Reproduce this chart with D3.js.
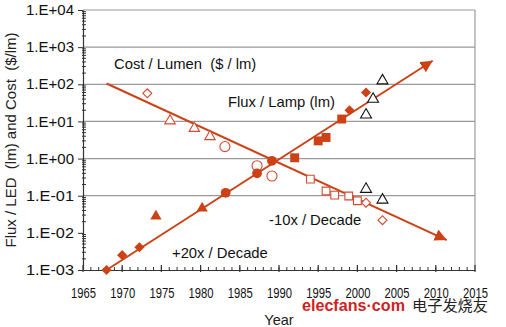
<!DOCTYPE html>
<html>
<head>
<meta charset="utf-8">
<script src="https://cdn.jsdelivr.net/npm/d3@7"></script>
<style>
  html, body { margin: 0; padding: 0; background: #fff; }
  svg { display: block; font-family: Arial, "Liberation Sans", sans-serif; }
  text { white-space: pre; }
</style>
</head>
<body>
<svg id="chart" width="506" height="327"></svg>
<script>
// ---- data ----
const xTickYears = [1965, 1970, 1975, 1980, 1985, 1990, 1995, 2000, 2005, 2010, 2015];
const yTickValues = [1e-3, 1e-2, 1e-1, 1e0, 1e1, 1e2, 1e3, 1e4];
const gridValues = [1e-1, 1e0, 1e1, 1e2, 1e3, 1e4];

// Flux per LED package (lm), filled markers
const ledDiamondYears = [1968, 1970, 1972.2, 1999, 2001.1];
const ledDiamondFlux = [0.001, 0.0025, 0.0041, 20, 60];
const ledTriangleYears = [1974.3, 1980.2];
const ledTriangleFlux = [0.028, 0.046];
const ledCircleYears = [1983.2, 1987.2, 1989.1];
const ledCircleFlux = [0.12, 0.40, 0.87];
const ledSquareYears = [1992, 1995, 1996, 1998];
const ledSquareFlux = [1.05, 3.0, 3.7, 11.6];

// Flux per lamp (lm), open black triangles
const lampFluxYears = [2001.1, 2002, 2003.2];
const lampFlux = [15, 40, 125];
// Lamp cost per lumen, open black triangles
const lampCostYears = [2001.1, 2003.2];
const lampCost = [0.15, 0.077];

// Cost per lumen ($/lm), open red markers
const costDiamondYears = [1973.2, 2001.1, 2003.2];
const costDiamond = [57, 0.065, 0.022];
const costTriangleYears = [1976.1, 1979.2, 1981.2];
const costTriangle = [10.4, 6.5, 3.9];
const costCircleYears = [1983.1, 1987.2, 1989.1];
const costCircle = [2.1, 0.64, 0.34];
const costSquareYears = [1994, 1996, 1997.1, 1998.9, 2000];
const costSquare = [0.28, 0.134, 0.104, 0.098, 0.073];

// Trend lines (+20x / decade and -10x / decade)
const fluxTrendYears = [1968, 2009.6];
const fluxTrend = [0.001, 430];
const costTrendYears = [1968, 2011.4];
const costTrend = [105, 0.0064];

// ---- layout ----
const svg = d3.select("#chart");
const plotLeft = 83, plotRight = 475, plotTop = 10, plotBottom = 270;
const red = "#cc4216";
const grid = "#9a9a9a";

const x = d3.scaleLinear().domain([1965, 2015]).range([plotLeft, plotRight]);
const y = d3.scaleLog().domain([1e-3, 1e4]).range([plotBottom, plotTop]);

// gridlines and right border
svg.append("g").selectAll("line").data(gridValues).join("line")
  .attr("x1", plotLeft).attr("x2", plotRight)
  .attr("y1", d => y(d)).attr("y2", d => y(d))
  .attr("stroke", grid).attr("stroke-width", 1.2);
svg.append("line").attr("x1", plotRight).attr("x2", plotRight)
  .attr("y1", y(1e4)).attr("y2", y(1e-3))
  .attr("stroke", grid).attr("stroke-width", 1.2);

// y axis
const fmt = d => {
  const e = Math.round(Math.log10(d));
  return "1.E" + (e < 0 ? "-" : "+") + String(Math.abs(e)).padStart(2, "0");
};
const yAxis = svg.append("g").attr("transform", `translate(${plotLeft},0)`)
  .call(d3.axisLeft(y).tickValues(yTickValues).tickFormat(fmt)
    .tickSize(5).tickSizeOuter(0).tickPadding(4));
yAxis.select(".domain").attr("stroke", "#333").attr("stroke-width", 1.2);
yAxis.selectAll(".tick line").attr("stroke", "#333");
yAxis.selectAll(".tick text").attr("font-size", 14.5).attr("fill", "#111")
  .attr("font-family", "Arial, 'Liberation Sans', sans-serif")
  .attr("textLength", 48).attr("lengthAdjust", "spacingAndGlyphs");

// y minor ticks
const yMinor = [];
for (let e = -3; e < 4; e++) for (let m = 2; m <= 9; m++) yMinor.push(m * Math.pow(10, e));
svg.append("g").selectAll("line").data(yMinor).join("line")
  .attr("x1", plotLeft - 1).attr("x2", plotLeft + 3)
  .attr("y1", d => y(d)).attr("y2", d => y(d))
  .attr("stroke", "#333").attr("stroke-width", 1);

// x axis
const xAxis = svg.append("g").attr("transform", `translate(0,${plotBottom})`)
  .call(d3.axisBottom(x).tickValues(xTickYears).tickFormat(d3.format("d"))
    .tickSize(0).tickPadding(18));
xAxis.select(".domain").attr("stroke", "#333").attr("stroke-width", 1.2);
xAxis.selectAll(".tick text").attr("font-size", 14.5).attr("fill", "#111")
  .attr("font-family", "Arial, 'Liberation Sans', sans-serif")
  .attr("textLength", 25).attr("lengthAdjust", "spacingAndGlyphs");
xAxis.selectAll(".tick line").remove();
// major ticks cross the axis, minor ticks every year inside
svg.append("g").selectAll("line").data(xTickYears).join("line")
  .attr("x1", d => x(d)).attr("x2", d => x(d))
  .attr("y1", plotBottom - 5).attr("y2", plotBottom + 2)
  .attr("stroke", "#333").attr("stroke-width", 1.2);
svg.append("g").selectAll("line").data(d3.range(1966, 2015)).join("line")
  .attr("x1", d => x(d)).attr("x2", d => x(d))
  .attr("y1", plotBottom - 3).attr("y2", plotBottom)
  .attr("stroke", "#333").attr("stroke-width", 1);

// axis titles
svg.append("text").attr("transform", "translate(16,140) rotate(-90)")
  .attr("text-anchor", "middle").attr("font-size", 15).attr("fill", "#222")
  .text("Flux / LED  (lm) and Cost  ($/lm)");
svg.append("text").attr("x", 279).attr("y", 325)
  .attr("text-anchor", "middle").attr("font-size", 14.5).attr("fill", "#222")
  .text("Year");

// arrowhead marker for trend lines
svg.append("defs").append("marker")
  .attr("id", "arrow").attr("viewBox", "0 0 12 12")
  .attr("refX", 12).attr("refY", 6)
  .attr("markerWidth", 12).attr("markerHeight", 12)
  .attr("markerUnits", "userSpaceOnUse").attr("orient", "auto")
  .append("path").attr("d", "M0,0 L12,6 L0,12 Z").attr("fill", red);

const line = d3.line().x(d => x(d[0])).y(d => y(d[1]));
const zip = (a, b) => a.map((v, i) => [v, b[i]]);

[zip(fluxTrendYears, fluxTrend), zip(costTrendYears, costTrend)].forEach(pts => {
  svg.append("path").datum(pts).attr("d", line)
    .attr("fill", "none").attr("stroke", red).attr("stroke-width", 2)
    .attr("marker-end", "url(#arrow)");
});

// markers
function marks(years, vals, type, size, opts) {
  const sym = d3.symbol().type(type).size(size);
  svg.append("g").selectAll("path").data(zip(years, vals)).join("path")
    .attr("d", sym)
    .attr("transform", d => `translate(${x(d[0])},${y(d[1])})` + (opts.rotate ? " rotate(45)" : ""))
    .attr("fill", opts.fill)
    .attr("stroke", opts.stroke || "none")
    .attr("stroke-width", opts.sw || 0);
}
const filled = { fill: red };
const openRed = { fill: "#fff", stroke: "#d24a30", sw: 1.1 };
const openBlack = { fill: "#fff", stroke: "#111", sw: 1.1 };

// cost (open red)
marks(costDiamondYears, costDiamond, d3.symbolSquare, 40, { ...openRed, rotate: true });
marks(costTriangleYears, costTriangle, d3.symbolTriangle, 48, openRed);
marks(costCircleYears, costCircle, d3.symbolCircle, 80, openRed);
marks(costSquareYears, costSquare, d3.symbolSquare, 60, openRed);
// lamp (open black)
marks(lampFluxYears, lampFlux, d3.symbolTriangle, 52, openBlack);
marks(lampCostYears, lampCost, d3.symbolTriangle, 52, openBlack);
// LED flux (filled)
marks(ledDiamondYears, ledDiamondFlux, d3.symbolSquare, 52, { ...filled, rotate: true });
marks(ledTriangleYears, ledTriangleFlux, d3.symbolTriangle, 55, filled);
marks(ledCircleYears, ledCircleFlux, d3.symbolCircle, 75, filled);
marks(ledSquareYears, ledSquareFlux, d3.symbolSquare, 80, filled);

// annotations
const notes = [
  { t: "Cost / Lumen  ($ / lm)", x: 114, y: 69 },
  { t: "Flux / Lamp (lm)", x: 228, y: 107 },
  { t: "-10x / Decade", x: 269, y: 225 },
  { t: "+20x / Decade", x: 172, y: 258 }
];
svg.append("g").selectAll("text").data(notes).join("text")
  .attr("x", d => d.x).attr("y", d => d.y)
  .attr("font-size", 14.8).attr("fill", "#111")
  .text(d => d.t);

// site mark
svg.append("text").attr("x", 302).attr("y", 311)
  .attr("font-size", 16).attr("font-weight", "bold").attr("fill", "#d11f24")
  .attr("textLength", 103).attr("lengthAdjust", "spacingAndGlyphs")
  .text("elecfans·com");
svg.append("text").attr("x", 412).attr("y", 311)
  .attr("font-size", 15).attr("fill", "#222")
  .attr("font-family", "'Noto Sans CJK SC', sans-serif")
  .attr("textLength", 76).attr("lengthAdjust", "spacingAndGlyphs")
  .text("电子发烧友");
</script>
</body>
</html>
